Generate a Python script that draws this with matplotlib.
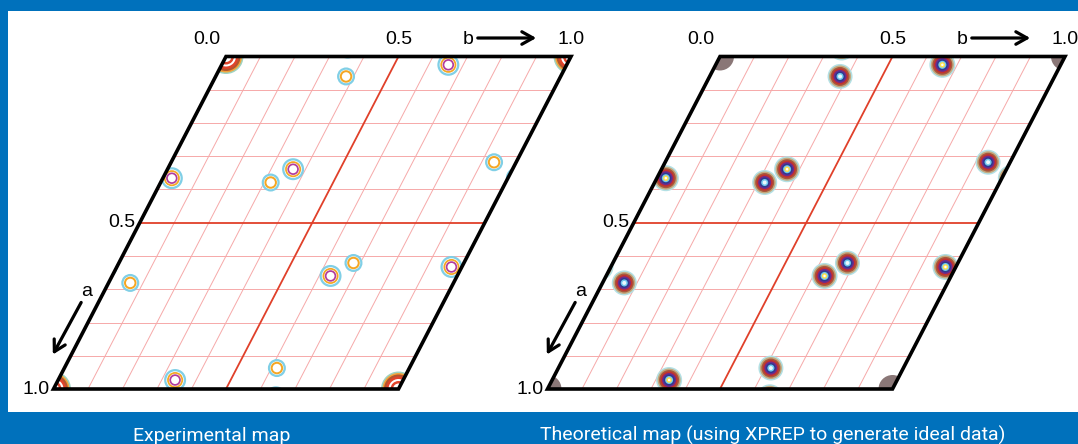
import numpy as np
import matplotlib
matplotlib.use('Agg')
import matplotlib.pyplot as plt
from matplotlib.transforms import Affine2D
from matplotlib.patches import Polygon, Rectangle

# Patterson peaks, fractional coords (a down the left edge, b along the top), one cell
peak_a = [0.0, 0.060, 0.025, 0.366, 0.379, 0.339, 0.318, 0.681, 0.660, 0.621, 0.633, 0.973, 0.937]
peak_b = [0.0, 0.378, 0.657, 0.026, 0.319, 0.364, 0.936, 0.063, 0.633, 0.680, 0.970, 0.339, 0.616]
# 2 = origin peak, 1 = strong, 0 = weak
peak_kind = [2, 0, 1, 1, 0, 1, 0, 0, 1, 0, 1, 1, 0]

grid_steps = [0.1, 0.2, 0.3, 0.4, 0.6, 0.7, 0.8, 0.9]
top_labels = ['0.0', '0.5', '1.0']
left_labels = ['0.5', '1.0']
captions = ['Experimental map', 'Theoretical map (using XPREP to generate ideal data)']

# ring styles: (diameter px, colour), outermost first
exp_rings = {
    2: [(35, '#9fd3c0'), (32, '#f2a33a'), (29, '#b2552f'), (25, '#e0442b'), (20, 'white'),
        (16, '#e0442b'), (11, 'white')],
    1: [(22, '#80cfe6'), (17.5, 'white'), (16, '#f5a623'), (12.5, 'white'),
        (11.5, '#b23c9c'), (8, 'white')],
    0: [(18, '#80cfe6'), (13.5, 'white'), (12.5, '#f5a623'), (8.5, 'white')],
}
theo_rings = {
    2: [(28, '#8a7777')],
    1: [(26, '#b3e0e4'), (23, '#c3a97e'), (20, '#a8583c'), (17, '#c4302e'), (14, '#6c2b8c'),
        (11, '#2e3a8f'), (8, '#70c8ee'), (5.5, '#ffe04d'), (2.5, 'white')],
    0: [(25, '#b3e0e4'), (22, '#c3a97e'), (19, '#a8583c'), (16, '#c4302e'), (13, '#6c2b8c'),
        (10, '#2e3a8f'), (7, '#70c8ee'), (4, '#eaf7fd')],
}

W, H = 1078, 444
cell_w, cell_h, cell_shift = 345, 332.5, 172.5
panel_x0 = [226, 720]
panel_y0 = 56.5
blue = '#0071bc'

fig = plt.figure(figsize=(W / 100, H / 100), dpi=100, facecolor=blue)
ax = fig.add_axes([0, 0, 1, 1])
ax.set_xlim(0, W)
ax.set_ylim(H, 0)
ax.axis('off')
ax.add_patch(Rectangle((8, 11), W - 8, 401, facecolor='white', edgecolor='none', zorder=0))

lab_font = dict(family=['Liberation Sans', 'DejaVu Sans'], fontsize=14, color='black')

for p in range(2):
    frac = Affine2D().from_values(cell_w, 0, -cell_shift, cell_h, panel_x0[p], panel_y0)
    T = frac + ax.transData

    # grid
    for s in grid_steps:
        ax.plot([0, 1], [s, s], color='#f6a9a9', lw=0.7, transform=T, zorder=1)
        ax.plot([s, s], [0, 1], color='#f6a9a9', lw=0.7, transform=T, zorder=1)
    ax.plot([0, 1], [0.5, 0.5], color='#e0402a', lw=1.3, transform=T, zorder=1)
    ax.plot([0.5, 0.5], [0, 1], color='#e0402a', lw=1.3, transform=T, zorder=1)

    cell = Polygon([(0, 0), (1, 0), (1, 1), (0, 1)], closed=True, fill=False,
                   edgecolor='black', lw=2.6, joinstyle='miter', transform=T, zorder=5)
    ax.add_patch(cell)

    # peaks with periodic images, clipped to the cell
    rings = exp_rings if p == 0 else theo_rings
    for kind in (2, 0, 1):
        pa = np.array([a for a, k in zip(peak_a, peak_kind) if k == kind])
        pb = np.array([b for b, k in zip(peak_b, peak_kind) if k == kind])
        xs, ys = [], []
        for da in (-1, 0, 1):
            for db in (-1, 0, 1):
                xs.append(pb + db)
                ys.append(pa + da)
        xs = np.concatenate(xs)
        ys = np.concatenate(ys)
        for i, (d, c) in enumerate(rings[kind]):
            sc = ax.scatter(xs, ys, s=(d * 0.72) ** 2, color=c, edgecolors='none',
                            transform=T, zorder=2 + 0.01 * i + 0.1 * kind)
            sc.set_clip_path(cell)

    # axis labels
    for lab, b in zip(top_labels, [0.0, 0.5, 1.0]):
        dx = -19 if b == 0.0 else 0
        ax.annotate(lab, xy=(b, 0), xycoords=T, xytext=(dx, 17), textcoords='offset pixels',
                    ha='center', va='center', **lab_font)
    for lab, a in zip(left_labels, [0.5, 1.0]):
        ax.annotate(lab, xy=(0, a), xycoords=T, xytext=(-4, 0), textcoords='offset pixels',
                    ha='right', va='center', **lab_font)

    tr = frac.transform((1, 0))
    ax.text(tr[0] - 103, tr[1] - 17, 'b', ha='center', va='center', **lab_font)
    ax.annotate('', xy=(tr[0] - 32, tr[1] - 18.5), xytext=(tr[0] - 96, tr[1] - 18.5),
                arrowprops=dict(arrowstyle='->,head_length=0.8,head_width=0.45', lw=2.3, color='black'))
    bl = frac.transform((0, 1))
    ax.text(bl[0] + 33, bl[1] - 98, 'a', ha='center', va='center', **lab_font)
    ax.annotate('', xy=(bl[0] - 2, bl[1] - 32), xytext=(bl[0] + 29, bl[1] - 89),
                arrowprops=dict(arrowstyle='->,head_length=0.8,head_width=0.45', lw=2.3, color='black'))

cap_font = dict(family=['Roboto', 'DejaVu Sans'], fontweight='normal', fontsize=14, color='white')
ax.text(212, 441, captions[0], ha='center', va='baseline', **cap_font)
ax.text(540, 441, captions[1], ha='left', va='baseline', **cap_font)

fig.savefig('out.png', dpi=100, facecolor=fig.get_facecolor())
